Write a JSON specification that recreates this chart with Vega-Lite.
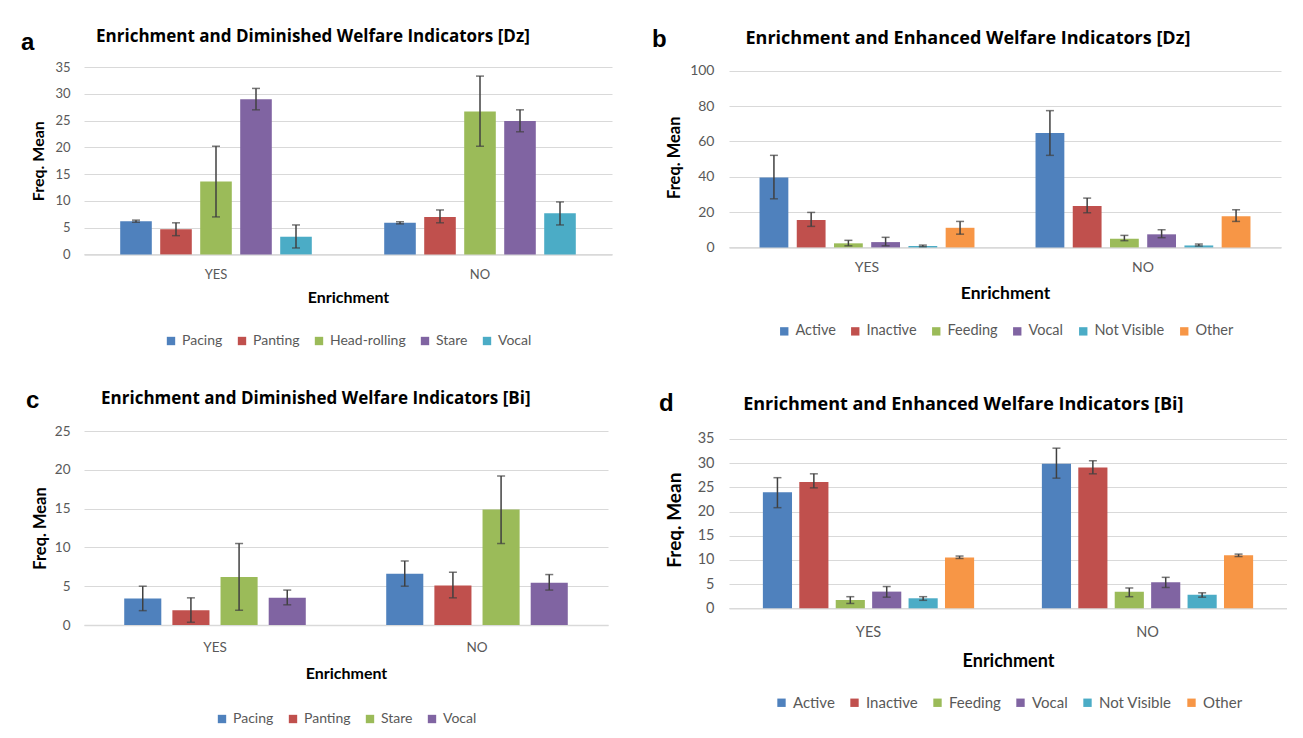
{
  "$schema": "https://vega.github.io/schema/vega-lite/v6.json",
  "background": "white",
  "padding": {"left": 21, "top": 28, "right": 0, "bottom": 0},
  "datasets": {
    "a": [
      {"enrich": "YES", "beh": "Pacing", "mean": 6.2, "lo": 6.0, "hi": 6.4},
      {"enrich": "YES", "beh": "Panting", "mean": 4.7, "lo": 3.5, "hi": 5.9},
      {"enrich": "YES", "beh": "Head-rolling", "mean": 13.6, "lo": 7.0, "hi": 20.2},
      {"enrich": "YES", "beh": "Stare", "mean": 29.0, "lo": 27.0, "hi": 31.0},
      {"enrich": "YES", "beh": "Vocal", "mean": 3.3, "lo": 1.2, "hi": 5.5},
      {"enrich": "NO", "beh": "Pacing", "mean": 5.9, "lo": 5.7, "hi": 6.1},
      {"enrich": "NO", "beh": "Panting", "mean": 7.0, "lo": 5.9, "hi": 8.3},
      {"enrich": "NO", "beh": "Head-rolling", "mean": 26.7, "lo": 20.2, "hi": 33.3},
      {"enrich": "NO", "beh": "Stare", "mean": 24.9, "lo": 22.9, "hi": 27.0},
      {"enrich": "NO", "beh": "Vocal", "mean": 7.7, "lo": 5.5, "hi": 9.8}
    ],
    "b": [
      {"enrich": "YES", "beh": "Active", "mean": 39.6, "lo": 27.5, "hi": 52.1},
      {"enrich": "YES", "beh": "Inactive", "mean": 15.5, "lo": 11.9, "hi": 19.8},
      {"enrich": "YES", "beh": "Feeding", "mean": 2.3, "lo": 0.9, "hi": 4.0},
      {"enrich": "YES", "beh": "Vocal", "mean": 3.0, "lo": 0.9, "hi": 5.7},
      {"enrich": "YES", "beh": "Not Visible", "mean": 0.8, "lo": 0.4, "hi": 1.3},
      {"enrich": "YES", "beh": "Other", "mean": 11.1, "lo": 7.5, "hi": 14.7},
      {"enrich": "NO", "beh": "Active", "mean": 64.7, "lo": 52.1, "hi": 77.4},
      {"enrich": "NO", "beh": "Inactive", "mean": 23.4, "lo": 19.6, "hi": 27.9},
      {"enrich": "NO", "beh": "Feeding", "mean": 4.9, "lo": 3.8, "hi": 6.8},
      {"enrich": "NO", "beh": "Vocal", "mean": 7.4, "lo": 5.5, "hi": 10.0},
      {"enrich": "NO", "beh": "Not Visible", "mean": 1.1, "lo": 0.8, "hi": 1.9},
      {"enrich": "NO", "beh": "Other", "mean": 17.7, "lo": 14.7, "hi": 21.3}
    ],
    "c": [
      {"enrich": "YES", "beh": "Pacing", "mean": 3.4, "lo": 1.85, "hi": 5.0},
      {"enrich": "YES", "beh": "Panting", "mean": 1.9, "lo": 0.35, "hi": 3.5},
      {"enrich": "YES", "beh": "Stare", "mean": 6.2, "lo": 1.9, "hi": 10.5},
      {"enrich": "YES", "beh": "Vocal", "mean": 3.5, "lo": 2.6, "hi": 4.5},
      {"enrich": "NO", "beh": "Pacing", "mean": 6.6, "lo": 5.0, "hi": 8.25},
      {"enrich": "NO", "beh": "Panting", "mean": 5.1, "lo": 3.5, "hi": 6.8},
      {"enrich": "NO", "beh": "Stare", "mean": 14.9, "lo": 10.5, "hi": 19.2},
      {"enrich": "NO", "beh": "Vocal", "mean": 5.45, "lo": 4.5, "hi": 6.5}
    ],
    "d": [
      {"enrich": "YES", "beh": "Active", "mean": 24.0, "lo": 20.8, "hi": 27.0},
      {"enrich": "YES", "beh": "Inactive", "mean": 26.1, "lo": 24.9, "hi": 27.8},
      {"enrich": "YES", "beh": "Feeding", "mean": 1.7, "lo": 1.0, "hi": 2.4},
      {"enrich": "YES", "beh": "Vocal", "mean": 3.45, "lo": 2.3, "hi": 4.5},
      {"enrich": "YES", "beh": "Not Visible", "mean": 2.07, "lo": 1.65, "hi": 2.4},
      {"enrich": "YES", "beh": "Other", "mean": 10.5, "lo": 10.3, "hi": 10.8},
      {"enrich": "NO", "beh": "Active", "mean": 29.9, "lo": 26.9, "hi": 33.1},
      {"enrich": "NO", "beh": "Inactive", "mean": 29.1, "lo": 27.8, "hi": 30.5},
      {"enrich": "NO", "beh": "Feeding", "mean": 3.4, "lo": 2.4, "hi": 4.2},
      {"enrich": "NO", "beh": "Vocal", "mean": 5.4, "lo": 4.3, "hi": 6.4},
      {"enrich": "NO", "beh": "Not Visible", "mean": 2.8, "lo": 2.3, "hi": 3.2},
      {"enrich": "NO", "beh": "Other", "mean": 10.96, "lo": 10.7, "hi": 11.2}
    ]
  },
  "columns": 2,
  "align": "each",
  "spacing": {"column": 40, "row": 41},
  "resolve": {"scale": {"color": "independent", "x": "independent", "y": "independent", "xOffset": "independent"}, "legend": {"color": "independent"}},
  "concat": [
    {
      "width": 528, "height": 187.4,
      "title": {"text": "a", "subtitle": "\u200b\u00a0\u00a0\u00a0\u00a0\u00a0\u00a0\u00a0\u00a0\u00a0\u00a0\u00a0\u00a0\u00a0\u00a0\u00a0\u00a0\u00a0Enrichment and Diminished Welfare Indicators [Dz]", "anchor": "start", "frame": "group", "dx": -63, "fontSize": 24, "font": "Liberation Sans", "fontWeight": "bold", "color": "#000000", "subtitleFont": "Open Sans", "subtitleFontSize": 17, "subtitleFontWeight": "bold", "subtitleColor": "#000000", "subtitlePadding": -26, "offset": 3},
      "data": {"name": "a"},
      "encoding": {
        "x": {"field": "enrich", "type": "nominal", "sort": ["YES", "NO"], "title": "Enrichment", "scale": {"paddingInner": 0, "paddingOuter": 0}, "axis": {"labelPadding": 14, "titlePadding": 8, "titleFontSize": 16, "labelFontSize": 13}},
        "xOffset": {"field": "beh", "type": "nominal", "sort": ["Pacing", "Panting", "Head-rolling", "Stare", "Vocal"], "scale": {"paddingInner": 0.21, "paddingOuter": 0.905}}
      },
      "layer": [
        {"mark": {"type": "bar"}, "encoding": {
          "y": {"field": "mean", "type": "quantitative", "title": "Freq. Mean", "scale": {"domain": [0, 35], "nice": false}, "axis": {"values": [0, 5, 10, 15, 20, 25, 30, 35], "labelOverlap": false, "labelPadding": 14, "titlePadding": 8, "titleFontSize": 16, "labelFontSize": 13}},
          "color": {"field": "beh", "type": "nominal", "scale": {"domain": ["Pacing", "Panting", "Head-rolling", "Stare", "Vocal"], "range": ["#4F81BD", "#C0504D", "#9BBB59", "#8064A2", "#4BACC6"]}, "legend": {"offset": 28, "labelFontSize": 14}}}},
        {"mark": {"type": "rule", "color": "#404040", "strokeWidth": 1.5}, "encoding": {"y": {"field": "lo", "type": "quantitative", "title": "Freq. Mean", "axis": {"values": [0, 5, 10, 15, 20, 25, 30, 35], "labelOverlap": false, "labelPadding": 14, "titlePadding": 8, "titleFontSize": 16, "labelFontSize": 13}}, "y2": {"field": "hi"}}},
        {"mark": {"type": "tick", "color": "#404040", "thickness": 1.5, "size": 8}, "encoding": {"y": {"field": "lo", "type": "quantitative", "title": "Freq. Mean", "axis": {"values": [0, 5, 10, 15, 20, 25, 30, 35], "labelOverlap": false, "labelPadding": 14, "titlePadding": 8, "titleFontSize": 16, "labelFontSize": 13}}}},
        {"mark": {"type": "tick", "color": "#404040", "thickness": 1.5, "size": 8}, "encoding": {"y": {"field": "hi", "type": "quantitative", "title": "Freq. Mean", "axis": {"values": [0, 5, 10, 15, 20, 25, 30, 35], "labelOverlap": false, "labelPadding": 14, "titlePadding": 8, "titleFontSize": 16, "labelFontSize": 13}}}}
      ]
    },
    {
      "width": 552, "height": 180.4,
      "title": {"text": "b", "subtitle": "\u200b\u00a0\u00a0\u00a0\u00a0\u00a0\u00a0\u00a0\u00a0\u00a0\u00a0\u00a0\u00a0\u00a0\u00a0\u00a0\u00a0\u00a0\u00a0\u00a0\u00a0Enrichment and Enhanced Welfare Indicators [Dz]", "anchor": "start", "frame": "group", "dx": -77, "fontSize": 24, "font": "Liberation Sans", "fontWeight": "bold", "color": "#000000", "subtitleFont": "Open Sans", "subtitleFontSize": 18, "subtitleFontWeight": "bold", "subtitleColor": "#000000", "subtitlePadding": -22.5, "offset": 11.5},
      "data": {"name": "b"},
      "encoding": {
        "x": {"field": "enrich", "type": "nominal", "sort": ["YES", "NO"], "title": "Enrichment", "scale": {"paddingInner": 0, "paddingOuter": 0}, "axis": {"labelPadding": 13, "titlePadding": 10, "titleFontSize": 17.5, "labelFontSize": 14}},
        "xOffset": {"field": "beh", "type": "nominal", "sort": ["Active", "Inactive", "Feeding", "Vocal", "Not Visible", "Other"], "scale": {"paddingInner": 0.226, "paddingOuter": 0.82}}
      },
      "layer": [
        {"mark": {"type": "bar"}, "encoding": {
          "y": {"field": "mean", "type": "quantitative", "title": "Freq. Mean", "scale": {"domain": [0, 102.1], "nice": false}, "axis": {"values": [0, 20, 40, 60, 80, 100], "labelOverlap": false, "labelPadding": 15, "titlePadding": 7, "titleFontSize": 16.5, "labelFontSize": 14}},
          "color": {"field": "beh", "type": "nominal", "scale": {"domain": ["Active", "Inactive", "Feeding", "Vocal", "Not Visible", "Other"], "range": ["#4F81BD", "#C0504D", "#9BBB59", "#8064A2", "#4BACC6", "#F79646"]}, "legend": {"offset": 22, "labelFontSize": 14.5}}}},
        {"mark": {"type": "rule", "color": "#404040", "strokeWidth": 1.5}, "encoding": {"y": {"field": "lo", "type": "quantitative", "title": "Freq. Mean", "axis": {"values": [0, 20, 40, 60, 80, 100], "labelOverlap": false, "labelPadding": 15, "titlePadding": 7, "titleFontSize": 16.5, "labelFontSize": 14}}, "y2": {"field": "hi"}}},
        {"mark": {"type": "tick", "color": "#404040", "thickness": 1.5, "size": 8}, "encoding": {"y": {"field": "lo", "type": "quantitative", "title": "Freq. Mean", "axis": {"values": [0, 20, 40, 60, 80, 100], "labelOverlap": false, "labelPadding": 15, "titlePadding": 7, "titleFontSize": 16.5, "labelFontSize": 14}}}},
        {"mark": {"type": "tick", "color": "#404040", "thickness": 1.5, "size": 8}, "encoding": {"y": {"field": "hi", "type": "quantitative", "title": "Freq. Mean", "axis": {"values": [0, 20, 40, 60, 80, 100], "labelOverlap": false, "labelPadding": 15, "titlePadding": 7, "titleFontSize": 16.5, "labelFontSize": 14}}}}
      ]
    },
    {
      "width": 524, "height": 194,
      "title": {"text": "c", "subtitle": "\u200b\u00a0\u00a0\u00a0\u00a0\u00a0\u00a0\u00a0\u00a0\u00a0\u00a0\u00a0\u00a0\u00a0\u00a0\u00a0\u00a0\u00a0Enrichment and Diminished Welfare Indicators [Bi]", "anchor": "start", "frame": "group", "dx": -58, "fontSize": 24, "font": "Liberation Sans", "fontWeight": "bold", "color": "#000000", "subtitleFont": "Open Sans", "subtitleFontSize": 17, "subtitleFontWeight": "bold", "subtitleColor": "#000000", "subtitlePadding": -22, "offset": 10.7},
      "data": {"name": "c"},
      "encoding": {
        "x": {"field": "enrich", "type": "nominal", "sort": ["YES", "NO"], "title": "Enrichment", "scale": {"paddingInner": 0, "paddingOuter": 0}, "axis": {"labelPadding": 15, "titlePadding": 12, "titleFontSize": 16, "labelFontSize": 13.5}},
        "xOffset": {"field": "beh", "type": "nominal", "sort": ["Pacing", "Panting", "Stare", "Vocal"], "scale": {"paddingInner": 0.23, "paddingOuter": 0.835}}
      },
      "layer": [
        {"mark": {"type": "bar"}, "encoding": {
          "y": {"field": "mean", "type": "quantitative", "title": "Freq. Mean", "scale": {"domain": [0, 25], "nice": false}, "axis": {"values": [0, 5, 10, 15, 20, 25], "labelOverlap": false, "labelPadding": 14, "titlePadding": 6, "titleFontSize": 16.5, "labelFontSize": 13.5}},
          "color": {"field": "beh", "type": "nominal", "scale": {"domain": ["Pacing", "Panting", "Stare", "Vocal"], "range": ["#4F81BD", "#C0504D", "#9BBB59", "#8064A2"]}, "legend": {"offset": 30, "labelFontSize": 14}}}},
        {"mark": {"type": "rule", "color": "#404040", "strokeWidth": 1.5}, "encoding": {"y": {"field": "lo", "type": "quantitative", "title": "Freq. Mean", "axis": {"values": [0, 5, 10, 15, 20, 25], "labelOverlap": false, "labelPadding": 14, "titlePadding": 6, "titleFontSize": 16.5, "labelFontSize": 13.5}}, "y2": {"field": "hi"}}},
        {"mark": {"type": "tick", "color": "#404040", "thickness": 1.5, "size": 8}, "encoding": {"y": {"field": "lo", "type": "quantitative", "title": "Freq. Mean", "axis": {"values": [0, 5, 10, 15, 20, 25], "labelOverlap": false, "labelPadding": 14, "titlePadding": 6, "titleFontSize": 16.5, "labelFontSize": 13.5}}}},
        {"mark": {"type": "tick", "color": "#404040", "thickness": 1.5, "size": 8}, "encoding": {"y": {"field": "hi", "type": "quantitative", "title": "Freq. Mean", "axis": {"values": [0, 5, 10, 15, 20, 25], "labelOverlap": false, "labelPadding": 14, "titlePadding": 6, "titleFontSize": 16.5, "labelFontSize": 13.5}}}}
      ]
    },
    {
      "width": 558, "height": 177.3,
      "title": {"text": "d", "subtitle": "\u200b\u00a0\u00a0\u00a0\u00a0\u00a0\u00a0\u00a0\u00a0\u00a0\u00a0\u00a0\u00a0\u00a0\u00a0\u00a0\u00a0\u00a0\u00a0Enrichment and Enhanced Welfare Indicators [Bi]", "anchor": "start", "frame": "group", "dx": -70, "fontSize": 24, "font": "Liberation Sans", "fontWeight": "bold", "color": "#000000", "subtitleFont": "Open Sans", "subtitleFontSize": 18, "subtitleFontWeight": "bold", "subtitleColor": "#000000", "subtitlePadding": -20, "offset": 15.3},
      "data": {"name": "d"},
      "encoding": {
        "x": {"field": "enrich", "type": "nominal", "sort": ["YES", "NO"], "title": "Enrichment", "scale": {"paddingInner": 0, "paddingOuter": 0}, "axis": {"labelPadding": 17, "titlePadding": 14, "titleFontSize": 18, "labelFontSize": 14.5}},
        "xOffset": {"field": "beh", "type": "nominal", "sort": ["Active", "Inactive", "Feeding", "Vocal", "Not Visible", "Other"], "scale": {"paddingInner": 0.2, "paddingOuter": 0.93}}
      },
      "layer": [
        {"mark": {"type": "bar"}, "encoding": {
          "y": {"field": "mean", "type": "quantitative", "title": "Freq. Mean", "scale": {"domain": [0, 36.65], "nice": false}, "axis": {"values": [0, 5, 10, 15, 20, 25, 30, 35], "labelOverlap": false, "labelPadding": 15, "titlePadding": 13, "titleFontSize": 19, "labelFontSize": 14.5}},
          "color": {"field": "beh", "type": "nominal", "scale": {"domain": ["Active", "Inactive", "Feeding", "Vocal", "Not Visible", "Other"], "range": ["#4F81BD", "#C0504D", "#9BBB59", "#8064A2", "#4BACC6", "#F79646"]}, "legend": {"offset": 24, "labelFontSize": 15}}}},
        {"mark": {"type": "rule", "color": "#404040", "strokeWidth": 1.5}, "encoding": {"y": {"field": "lo", "type": "quantitative", "title": "Freq. Mean", "axis": {"values": [0, 5, 10, 15, 20, 25, 30, 35], "labelOverlap": false, "labelPadding": 15, "titlePadding": 13, "titleFontSize": 19, "labelFontSize": 14.5}}, "y2": {"field": "hi"}}},
        {"mark": {"type": "tick", "color": "#404040", "thickness": 1.5, "size": 8}, "encoding": {"y": {"field": "lo", "type": "quantitative", "title": "Freq. Mean", "axis": {"values": [0, 5, 10, 15, 20, 25, 30, 35], "labelOverlap": false, "labelPadding": 15, "titlePadding": 13, "titleFontSize": 19, "labelFontSize": 14.5}}}},
        {"mark": {"type": "tick", "color": "#404040", "thickness": 1.5, "size": 8}, "encoding": {"y": {"field": "hi", "type": "quantitative", "title": "Freq. Mean", "axis": {"values": [0, 5, 10, 15, 20, 25, 30, 35], "labelOverlap": false, "labelPadding": 15, "titlePadding": 13, "titleFontSize": 19, "labelFontSize": 14.5}}}}
      ]
    }
  ],
  "config": {
    "font": "Lato",
    "view": {"stroke": null},
    "axis": {"labelFont": "Lato", "labelColor": "#595959", "titleFont": "Lato", "titleFontWeight": "bold", "titleColor": "#000000", "ticks": false, "domain": false, "gridColor": "#d9d9d9", "gridWidth": 1},
    "axisX": {"grid": false, "domain": true, "domainColor": "#d9d9d9", "domainWidth": 1.5, "labelAngle": 0},
    "axisY": {"grid": true},
    "legend": {"orient": "bottom", "direction": "horizontal", "title": null, "symbolType": "square", "symbolSize": 70, "symbolStrokeWidth": 0, "symbolOpacity": 1, "labelFont": "Lato", "labelColor": "#595959", "columnPadding": 12, "labelOffset": 4, "layout": {"bottom": {"anchor": "middle"}}}
  }
}
